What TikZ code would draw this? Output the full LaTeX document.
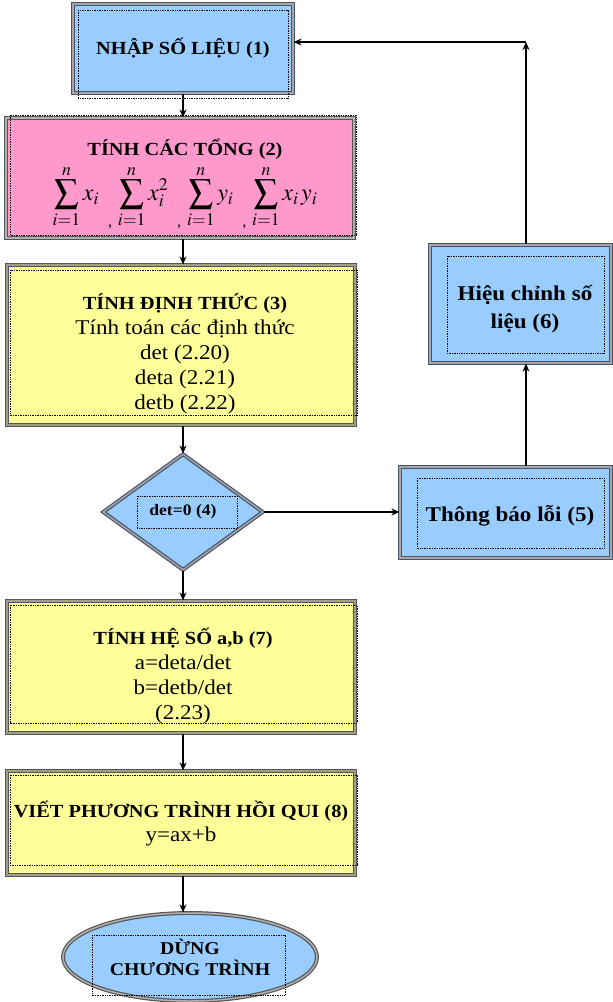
\documentclass[tikz,border=0pt]{standalone}
\usepackage{amsmath}
\usepackage{mathptmx}
\usepackage{fontspec}
\setmainfont{Liberation Serif}[FakeStretch=1.1]
\usetikzlibrary{shapes.geometric,arrows.meta}
\definecolor{cblue}{HTML}{99CCFF}
\definecolor{cpink}{HTML}{FF99CC}
\definecolor{cyel}{HTML}{FFFF99}
\definecolor{bblue}{RGB}{70,84,108}
\definecolor{bgray}{RGB}{85,85,85}
\definecolor{bolive}{RGB}{120,120,80}
\newcommand\ttlf{\bfseries\fontsize{18.5}{25}\selectfont}
\newcommand\mycomma{\hspace{9pt}\raisebox{-26pt}{\fontsize{15}{15}\selectfont ,}\hspace{3pt}}
\begin{document}
\begin{tikzpicture}[x=1pt,y=-1pt,
  boxbase/.style={rectangle,inner sep=2pt,align=center,line width=1.2pt,double distance=1.5pt},
  bluebox/.style={boxbase,fill=cblue,draw=bblue,double=gray!70},
  pinkbox/.style={boxbase,fill=cpink,draw=bgray,double=gray!60},
  yelbox/.style={boxbase,fill=cyel,draw=bgray,double=bolive!70},
  dotbox/.style={draw=black,line width=0.7pt,dash pattern=on 0.8pt off 0.9pt},
  arr/.style={line width=2.6pt,-{Stealth[length=8pt,width=7pt]}},
  bodyf/.style={font=\fontsize{21}{25}\selectfont},
  txt/.style={align=center,inner sep=0pt}
]
\useasboundingbox (0,0) rectangle (613,1002);
\coordinate (col) at (183,0);
\coordinate (cx) at (526,0);
\coordinate (corner) at (526,42);

% box 1
\node[bluebox,minimum width=220pt,minimum height=89pt] (b1) at (183,48.5)
  {\ttlf NHẬP SỐ LIỆU (1)};
\draw[dotbox] (78,10) rectangle (288,98);

% box 2
\node[pinkbox,minimum width=348pt,minimum height=120pt] (b2) at (180,178) {};
\node[txt,font=\ttlf] (b2t) at (185,149) {TÍNH CÁC TỔNG (2)};
\node[txt,font=\fontsize{24}{28}\selectfont] (b2m) at (185,197)
  {$\displaystyle \sum_{i=1}^{n} x_i \mycomma \sum_{i=1}^{n} x_i^2 \mycomma \sum_{i=1}^{n} y_i \mycomma \sum_{i=1}^{n} x_i\, y_i$};
\draw[dotbox] (10,115) rectangle (356,235);

% box 3
\node[yelbox,minimum width=348pt,minimum height=160pt] (b3) at (181,345) {};
\node[txt,bodyf] (b3t) at (185,354)
  {{\ttlf TÍNH ĐỊNH THỨC (3)}\\ Tính toán các định thức\\ det (2.20)\\ deta (2.21)\\ detb (2.22)};
\draw[dotbox] (10,270) rectangle (357,415);

% diamond
\node[diamond,fill=cblue,draw=bblue,double=gray!70,line width=1.2pt,double distance=1.5pt,
  aspect=1.38,inner sep=0pt,minimum width=160pt,minimum height=116pt,
  font=\bfseries\fontsize{16}{18}\selectfont] (dia) at (183,512) {det=0 (4)};
\draw[dotbox] (137,496) rectangle (237,528);

% box 5
\node[bluebox,minimum width=211pt,minimum height=91pt] (b5) at (505.5,512.5) {};
\node[txt,font=\bfseries\fontsize{21}{25}\selectfont] (b5t) at (510,516) {Thông báo lỗi (5)};
\draw[dotbox] (417,478) rectangle (604,548);

% box 6
\node[bluebox,minimum width=181pt,minimum height=118pt] (b6) at (520.5,304) {};
\node[txt,font=\bfseries\fontsize{21}{28}\selectfont] (b6t) at (525,309) {Hiệu chỉnh số\\ liệu (6)};
\draw[dotbox] (447,256) rectangle (604,353);

% box 7
\node[yelbox,minimum width=348pt,minimum height=132pt] (b7) at (181,667) {};
\node[txt,bodyf] (b7t) at (183,676)
  {{\ttlf TÍNH HỆ SỐ a,b (7)}\\ a=deta/det\\ b=detb/det\\ (2.23)};
\draw[dotbox] (10,605) rectangle (357,723);

% box 8
\node[yelbox,minimum width=348pt,minimum height=104pt] (b8) at (181,823) {};
\node[txt,font=\fontsize{21}{24}\selectfont] (b8t) at (181,824)
  {{\ttlf VIẾT PHƯƠNG TRÌNH HỒI QUI (8)}\\ y=ax+b};
\draw[dotbox] (10,775) rectangle (357,865);

% ellipse
\node[ellipse,fill=cblue,draw=bgray,double=gray!60,line width=1.2pt,double distance=1.5pt,
  minimum width=254pt,minimum height=88pt,inner sep=0pt,align=center,
  font=\bfseries\fontsize{18}{21}\selectfont] (ell) at (190,957) {DỪNG\\ CHƯƠNG TRÌNH};
\draw[dotbox] (92,935) rectangle (285,995);

% connectors
\draw[arr] (col |- b1.south) -- (col |- b2.north);
\draw[arr] (col |- b2.south) -- (col |- b3.north);
\draw[arr] (col |- b3.south) -- (dia.north);
\draw[arr] (dia.south) -- (col |- b7.north);
\draw[arr] (col |- b7.south) -- (col |- b8.north);
\draw[arr] (col |- b8.south) -- (col |- ell.north);
\draw[arr] (dia.east) -- (b5.west |- dia.east);
\draw[arr] (cx |- b5.north) -- (cx |- b6.south);
\draw[arr] (cx |- b6.north) -- (corner);
\draw[arr] (corner) -- (b1.east |- corner);
\end{tikzpicture}
\end{document}
